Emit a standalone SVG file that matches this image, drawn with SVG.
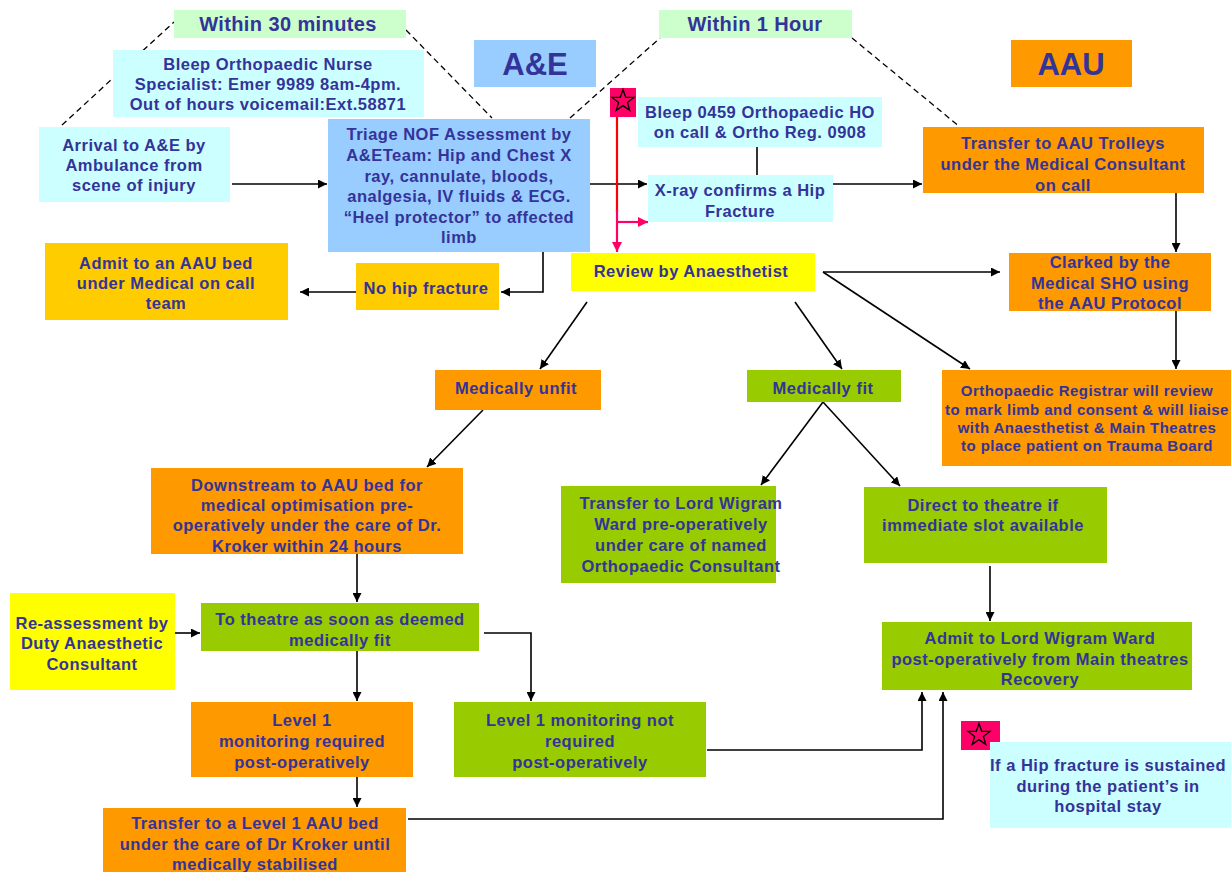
<svg xmlns="http://www.w3.org/2000/svg" width="1231" height="872" viewBox="0 0 1231 872">
<style>
.t{font-family:"Liberation Sans",Arial,sans-serif;font-weight:bold;font-size:16.5px;letter-spacing:0.5px;fill:#333399;text-anchor:middle}
.s{font-size:15px;letter-spacing:0.45px}
.h{font-size:20px;letter-spacing:0.4px}
.b{font-size:31px;letter-spacing:0}
.c{stroke:#000;stroke-width:1.6;fill:none}
.d{stroke:#000;stroke-width:1.3;fill:none;stroke-dasharray:6 4}
.cy{fill:#CCFFFF}.lb{fill:#99CCFF}.lg{fill:#CCFFCC}.or{fill:#FF9900}.go{fill:#FFCC00}.ye{fill:#FFFF00}.gr{fill:#99CC00}.pk{fill:#FF0066}
</style>
<defs>
<marker id="a" viewBox="0 0 10 10" refX="10" refY="5" markerWidth="9" markerHeight="9" markerUnits="userSpaceOnUse" orient="auto"><path d="M0,0 L10,5 L0,10 z" fill="#000"/></marker>
<marker id="p" viewBox="0 0 10 10" refX="10" refY="5" markerWidth="10" markerHeight="10" markerUnits="userSpaceOnUse" orient="auto"><path d="M0,0 L10,5 L0,10 z" fill="#FF0066"/></marker>
<polygon id="star" points="0,-11.5 2.7,-3.7 10.9,-3.55 4.4,1.4 6.75,9.3 0,4.6 -6.75,9.3 -4.4,1.4 -10.9,-3.55 -2.7,-3.7" fill="#FF0066" stroke="#000" stroke-width="1.3"/>
</defs>
<rect width="1231" height="872" fill="#fff"/>

<g id="connectors">
<path class="d" d="M62,125 L174,22"/>
<path class="d" d="M406,30 L492,118"/>
<path class="d" d="M570,118 L660,38"/>
<path class="d" d="M852,38 L960,127"/>
<path class="c" d="M232,184 L327,184" marker-end="url(#a)"/>
<path class="c" d="M590,184 L647,184" marker-end="url(#a)"/>
<path class="c" d="M833,184 L922,184" marker-end="url(#a)"/>
<path class="c" d="M757,147 L757,175"/>
<path d="M617,117 L617,212" stroke="#FF0000" stroke-width="2.2" fill="none"/>
<path d="M617,210 L617,252" stroke="#FF0066" stroke-width="2.2" fill="none" marker-end="url(#p)"/>
<path d="M617,222 L648,222" stroke="#FF0066" stroke-width="2.2" fill="none" marker-end="url(#p)"/>
<path class="c" d="M543,252 L543,292 L501,292" marker-end="url(#a)"/>
<path class="c" d="M356,292 L300,292" marker-end="url(#a)"/>
<path class="c" d="M1176,193 L1176,252" marker-end="url(#a)"/>
<path class="c" d="M823,272 L1000,272" marker-end="url(#a)"/>
<path class="c" d="M823,272 L970,369" marker-end="url(#a)"/>
<path class="c" d="M1176,311 L1176,369" marker-end="url(#a)"/>
<path class="c" d="M587,302 L540,369" marker-end="url(#a)"/>
<path class="c" d="M795,302 L842,369" marker-end="url(#a)"/>
<path class="c" d="M483,410 L427,467" marker-end="url(#a)"/>
<path class="c" d="M823,402 L761,485" marker-end="url(#a)"/>
<path class="c" d="M823,402 L900,486" marker-end="url(#a)"/>
<path class="c" d="M357,554 L357,602" marker-end="url(#a)"/>
<path class="c" d="M174,633 L200,633" marker-end="url(#a)"/>
<path class="c" d="M357,651 L357,701" marker-end="url(#a)"/>
<path class="c" d="M484,633 L531,633 L531,701" marker-end="url(#a)"/>
<path class="c" d="M990,566 L990,621" marker-end="url(#a)"/>
<path class="c" d="M707,750 L922,750 L922,692" marker-end="url(#a)"/>
<path class="c" d="M357,777 L357,807" marker-end="url(#a)"/>
<path class="c" d="M408,819 L943,819 L943,692" marker-end="url(#a)"/>
</g>

<g id="within30"><rect class="lg" x="174" y="10" width="232" height="28"/><text class="t h" x="288" y="31">Within  30 minutes</text></g>
<g id="within1h"><rect class="lg" x="659" y="10" width="193" height="28"/><text class="t h" x="755" y="31">Within  1 Hour</text></g>
<g id="bleepNurse"><rect class="cy" x="113" y="50" width="311" height="67"/>
<text class="t" x="268" y="70">Bleep Orthopaedic Nurse</text>
<text class="t" x="268" y="90">Specialist: Emer 9989  8am-4pm.</text>
<text class="t" x="268" y="110">Out of hours voicemail:Ext.58871</text></g>
<g id="ae"><rect class="lb" x="474" y="40" width="122" height="47"/><text class="t b" x="535" y="75">A&amp;E</text></g>
<g id="aau"><rect class="or" x="1011" y="40" width="121" height="47"/><text class="t b" x="1071" y="75">AAU</text></g>
<g id="arrival"><rect class="cy" x="39" y="127" width="191" height="75"/>
<text class="t" x="134" y="151">Arrival  to A&amp;E by</text>
<text class="t" x="134" y="171">Ambulance from</text>
<text class="t" x="134" y="191">scene of injury</text></g>
<g id="triage"><rect class="lb" x="328" y="119" width="262" height="133"/>
<text class="t" x="459" y="140">Triage NOF Assessment  by</text>
<text class="t" x="459" y="161">A&amp;ETeam: Hip and Chest X</text>
<text class="t" x="459" y="182">ray, cannulate, bloods,</text>
<text class="t" x="459" y="202">analgesia, IV fluids &amp; ECG.</text>
<text class="t" x="459" y="223">“Heel protector” to affected</text>
<text class="t" x="459" y="243">limb</text></g>
<g id="starTop"><rect class="pk" x="610" y="88" width="26" height="29"/><use href="#star" x="623" y="101"/></g>
<g id="bleepHO"><rect class="cy" x="638" y="97" width="244" height="50"/>
<text class="t" x="760" y="118">Bleep 0459 Orthopaedic HO</text>
<text class="t" x="760" y="138">on call &amp; Ortho Reg. 0908</text></g>
<g id="xray"><rect class="cy" x="648" y="175" width="185" height="47"/>
<text class="t" x="740" y="196">X-ray  confirms a Hip</text>
<text class="t" x="740" y="217">Fracture</text></g>
<g id="transferAAU"><rect class="or" x="923" y="127" width="281" height="66"/>
<text class="t" x="1063" y="149">Transfer  to AAU Trolleys</text>
<text class="t" x="1063" y="170">under the Medical  Consultant</text>
<text class="t" x="1063" y="191">on call</text></g>
<g id="review"><rect class="ye" x="571" y="253" width="244" height="38"/><text class="t" x="691" y="277">Review by Anaesthetist</text></g>
<g id="nohip"><rect class="go" x="356" y="263" width="143" height="47"/><text class="t" x="426" y="294">No hip fracture</text></g>
<g id="admitAAU"><rect class="go" x="45" y="243" width="243" height="77"/>
<text class="t" x="166" y="269">Admit to an AAU bed</text>
<text class="t" x="166" y="289">under Medical on call</text>
<text class="t" x="166" y="309">team</text></g>
<g id="clarked"><rect class="or" x="1009" y="253" width="202" height="58"/>
<text class="t" x="1110" y="268">Clarked by the</text>
<text class="t" x="1110" y="289">Medical SHO using</text>
<text class="t" x="1110" y="309">the AAU Protocol</text></g>
<g id="unfit"><rect class="or" x="435" y="370" width="166" height="40"/><text class="t" x="516" y="394">Medically unfit</text></g>
<g id="fit"><rect class="gr" x="747" y="370" width="154" height="32"/><text class="t" x="823" y="394">Medically fit</text></g>
<g id="orthoReg"><rect class="or" x="942" y="370" width="289" height="96"/>
<text class="t s" x="1087" y="396">Orthopaedic  Registrar  will  review</text>
<text class="t s" x="1087" y="415">to mark limb  and  consent &amp; will liaise</text>
<text class="t s" x="1087" y="433">with  Anaesthetist  &amp; Main Theatres</text>
<text class="t s" x="1087" y="451">to place patient  on Trauma Board</text></g>
<g id="downstream"><rect class="or" x="151" y="468" width="312" height="86"/>
<text class="t" x="307" y="491">Downstream to AAU  bed for</text>
<text class="t" x="307" y="511">medical optimisation pre-</text>
<text class="t" x="307" y="531">operatively under the care of Dr.</text>
<text class="t" x="307" y="552">Kroker within 24 hours</text></g>
<g id="lordWigramPre"><rect class="gr" x="561" y="486" width="215" height="97"/>
<text class="t" x="681" y="509">Transfer  to Lord Wigram</text>
<text class="t" x="681" y="530">Ward  pre-operatively</text>
<text class="t" x="681" y="551">under care of named</text>
<text class="t" x="681" y="572">Orthopaedic Consultant</text></g>
<g id="direct"><rect class="gr" x="864" y="487" width="243" height="76"/>
<text class="t" x="983" y="511">Direct to theatre if</text>
<text class="t" x="983" y="531">immediate slot available</text></g>
<g id="reassess"><rect class="ye" x="10" y="593" width="165" height="97"/>
<text class="t" x="92" y="629">Re-assessment  by</text>
<text class="t" x="92" y="649">Duty Anaesthetic</text>
<text class="t" x="92" y="670">Consultant</text></g>
<g id="toTheatre"><rect class="gr" x="201" y="603" width="278" height="48"/>
<text class="t" x="340" y="625">To theatre as soon as deemed</text>
<text class="t" x="340" y="646">medically fit</text></g>
<g id="admitPost"><rect class="gr" x="882" y="622" width="310" height="68"/>
<text class="t" x="1040" y="644">Admit to Lord Wigram Ward</text>
<text class="t" x="1040" y="665">post-operatively from  Main theatres</text>
<text class="t" x="1040" y="685">Recovery</text></g>
<g id="level1req"><rect class="or" x="191" y="702" width="222" height="75"/>
<text class="t" x="302" y="726">Level 1</text>
<text class="t" x="302" y="747">monitoring required</text>
<text class="t" x="302" y="768">post-operatively</text></g>
<g id="level1not"><rect class="gr" x="454" y="702" width="252" height="75"/>
<text class="t" x="580" y="726">Level  1 monitoring not</text>
<text class="t" x="580" y="747">required</text>
<text class="t" x="580" y="768">post-operatively</text></g>
<g id="starBottom"><rect class="pk" x="961" y="721" width="39" height="29"/><use href="#star" x="979" y="735"/></g>
<g id="inHospital"><rect class="cy" x="990" y="742" width="241" height="86"/>
<text class="t" x="1108" y="771">If a Hip fracture is sustained</text>
<text class="t" x="1108" y="792">during the patient’s in</text>
<text class="t" x="1108" y="812">hospital stay</text></g>
<g id="transferLevel1"><rect class="or" x="103" y="808" width="303" height="64"/>
<text class="t" x="255" y="829">Transfer  to a Level 1  AAU  bed</text>
<text class="t" x="255" y="850">under the care of Dr Kroker  until</text>
<text class="t" x="255" y="870">medically stabilised</text></g>
</svg>
